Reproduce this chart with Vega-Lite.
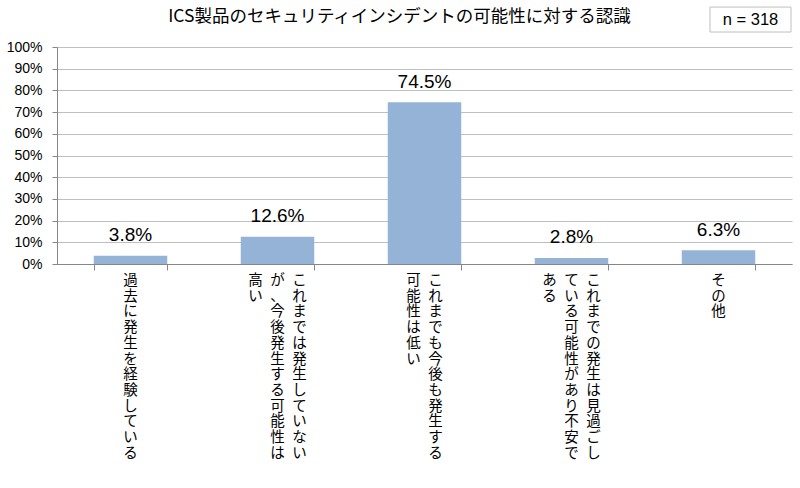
{
  "$schema": "https://vega.github.io/schema/vega-lite/v6.json",
  "width": 735,
  "height": 217,
  "autosize": "none",
  "padding": {"left": 57, "top": 47, "right": 8, "bottom": 224},
  "background": "white",
  "config": {"view": {"stroke": null}},
  "title": {
    "text": "ICS製品のセキュリティインシデントの可能性に対する認識",
    "font": "Noto Sans CJK JP",
    "fontSize": 17.5,
    "fontWeight": "normal",
    "color": "#000000",
    "anchor": "middle",
    "dx": -25,
    "dy": 39,
    "offset": 20
  },
  "data": {
    "values": [
      {"category": "過去に発生を経験している", "ratio": 0.038},
      {"category": "これまでは発生していないが、今後発生する可能性は高い", "ratio": 0.126},
      {"category": "これまでも今後も発生する可能性は低い", "ratio": 0.745},
      {"category": "これまでの発生は見過ごしている可能性があり不安である", "ratio": 0.028},
      {"category": "その他", "ratio": 0.063}
    ]
  },
  "layer": [
    {
      "mark": {"type": "bar", "color": "#95B3D7"},
      "encoding": {
        "x": {
          "field": "category", "type": "nominal", "sort": null,
          "scale": {"paddingInner": 0.5, "paddingOuter": 0.25},
          "axis": {"labels": false, "title": null, "tickBand": "extent", "tickSize": 6, "domainColor": "#868686", "tickColor": "#868686", "grid": false}
        },
        "y": {
          "field": "ratio", "type": "quantitative",
          "scale": {"domain": [0, 1], "nice": false},
          "axis": {"format": ".0%", "values": [0, 0.1, 0.2, 0.3, 0.4, 0.5, 0.6, 0.7, 0.8, 0.9, 1], "grid": true, "labelFont": "Liberation Sans", "labelFontSize": 14, "labelColor": "#000000", "labelPadding": 10, "tickSize": 5, "tickColor": "#868686", "domainColor": "#868686", "gridColor": "#BFBFBF", "title": null}
        }
      }
    },
    {
      "mark": {"type": "text", "font": "Liberation Sans", "fontSize": 19, "baseline": "alphabetic", "dy": -14.5, "color": "#000000"},
      "encoding": {
        "x": {
          "field": "category", "type": "nominal", "sort": null,
          "axis": {"labels": false, "title": null, "tickBand": "extent", "tickSize": 6, "domainColor": "#868686", "tickColor": "#868686", "grid": false}
        },
        "y": {
          "field": "ratio", "type": "quantitative",
          "axis": {"format": ".0%", "values": [0, 0.1, 0.2, 0.3, 0.4, 0.5, 0.6, 0.7, 0.8, 0.9, 1], "grid": true, "labelFont": "Liberation Sans", "labelFontSize": 14, "labelColor": "#000000", "labelPadding": 10, "tickSize": 5, "tickColor": "#868686", "domainColor": "#868686", "gridColor": "#BFBFBF", "title": null}
        },
        "text": {"field": "ratio", "type": "quantitative", "format": ".1%"}
      }
    },
    {
      "transform": [
        {"calculate": "[substring(datum.category,0,12), substring(datum.category,12,24), substring(datum.category,24,36)]", "as": "cols"},
        {"flatten": ["cols"], "as": ["col"]},
        {"filter": "length(datum.col) > 0"},
        {"window": [{"op": "row_number", "as": "k"}], "groupby": ["category"]},
        {"joinaggregate": [{"op": "count", "as": "n"}], "groupby": ["category"]},
        {"calculate": "(datum.n + 1) / 2 - datum.k", "as": "shift"},
        {"calculate": "split(datum.col, '')", "as": "chars"}
      ],
      "encoding": {
        "x": {
          "field": "category", "type": "nominal", "sort": null,
          "axis": {"labels": false, "title": null, "tickBand": "extent", "tickSize": 6, "domainColor": "#868686", "tickColor": "#868686", "grid": false}
        },
        "y": {
          "datum": 0, "type": "quantitative",
          "axis": {"format": ".0%", "values": [0, 0.1, 0.2, 0.3, 0.4, 0.5, 0.6, 0.7, 0.8, 0.9, 1], "grid": true, "labelFont": "Liberation Sans", "labelFontSize": 14, "labelColor": "#000000", "labelPadding": 10, "tickSize": 5, "tickColor": "#868686", "domainColor": "#868686", "gridColor": "#BFBFBF", "title": null}
        },
        "text": {"field": "chars", "type": "nominal"}
      },
      "layer": [
        {
          "transform": [{"filter": "datum.shift == 1"}],
          "mark": {"type": "text", "font": "Noto Sans CJK JP", "fontSize": 14.5, "lineHeight": 15.7, "align": "center", "baseline": "top", "dy": 10, "dx": 22, "color": "#000000"}
        },
        {
          "transform": [{"filter": "datum.shift == 0.5"}],
          "mark": {"type": "text", "font": "Noto Sans CJK JP", "fontSize": 14.5, "lineHeight": 15.7, "align": "center", "baseline": "top", "dy": 10, "dx": 11, "color": "#000000"}
        },
        {
          "transform": [{"filter": "datum.shift == 0"}],
          "mark": {"type": "text", "font": "Noto Sans CJK JP", "fontSize": 14.5, "lineHeight": 15.7, "align": "center", "baseline": "top", "dy": 10, "dx": 0, "color": "#000000"}
        },
        {
          "transform": [{"filter": "datum.shift == -0.5"}],
          "mark": {"type": "text", "font": "Noto Sans CJK JP", "fontSize": 14.5, "lineHeight": 15.7, "align": "center", "baseline": "top", "dy": 10, "dx": -11, "color": "#000000"}
        },
        {
          "transform": [{"filter": "datum.shift == -1"}],
          "mark": {"type": "text", "font": "Noto Sans CJK JP", "fontSize": 14.5, "lineHeight": 15.7, "align": "center", "baseline": "top", "dy": 10, "dx": -22, "color": "#000000"}
        }
      ]
    },
    {
      "data": {"values": [{"label": "n = 318"}]},
      "mark": {"type": "bar", "width": 81, "xOffset": 32, "fill": "white", "stroke": "#BFBFBF", "strokeWidth": 1},
      "encoding": {
        "x": {
          "datum": "その他", "type": "nominal",
          "axis": {"labels": false, "title": null, "tickBand": "extent", "tickSize": 6, "domainColor": "#868686", "tickColor": "#868686", "grid": false}
        },
        "y": {
          "datum": 1.184, "type": "quantitative",
          "axis": {"format": ".0%", "values": [0, 0.1, 0.2, 0.3, 0.4, 0.5, 0.6, 0.7, 0.8, 0.9, 1], "grid": true, "labelFont": "Liberation Sans", "labelFontSize": 14, "labelColor": "#000000", "labelPadding": 10, "tickSize": 5, "tickColor": "#868686", "domainColor": "#868686", "gridColor": "#BFBFBF", "title": null}
        },
        "y2": {"datum": 1.069}
      }
    },
    {
      "data": {"values": [{"label": "n = 318"}]},
      "mark": {"type": "text", "font": "Liberation Sans", "fontSize": 16.5, "dx": 32, "baseline": "middle", "color": "#000000"},
      "encoding": {
        "x": {
          "datum": "その他", "type": "nominal",
          "axis": {"labels": false, "title": null, "tickBand": "extent", "tickSize": 6, "domainColor": "#868686", "tickColor": "#868686", "grid": false}
        },
        "y": {
          "datum": 1.126, "type": "quantitative",
          "axis": {"format": ".0%", "values": [0, 0.1, 0.2, 0.3, 0.4, 0.5, 0.6, 0.7, 0.8, 0.9, 1], "grid": true, "labelFont": "Liberation Sans", "labelFontSize": 14, "labelColor": "#000000", "labelPadding": 10, "tickSize": 5, "tickColor": "#868686", "domainColor": "#868686", "gridColor": "#BFBFBF", "title": null}
        },
        "text": {"field": "label", "type": "nominal"}
      }
    }
  ]
}
